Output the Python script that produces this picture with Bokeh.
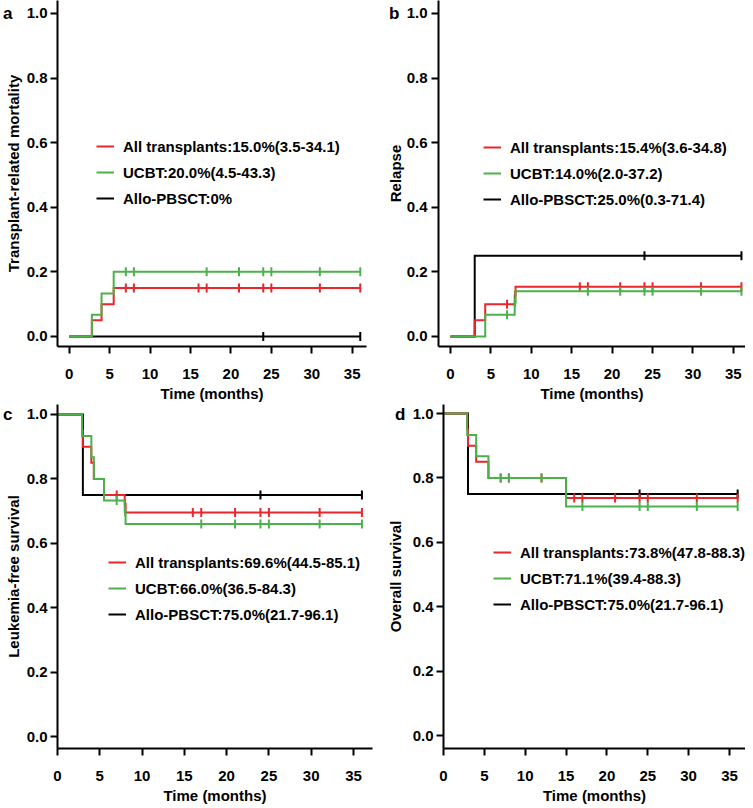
import numpy as np
from bokeh.plotting import figure
from bokeh.layouts import column, row
from bokeh.models import (Range1d, FixedTicker, NumeralTickFormatter, Legend, LegendItem,
                          LinearAxis, CustomJSTickFormatter)
from bokeh.embed import file_html
from bokeh.resources import INLINE

RED = "#e8262b"
GREEN = "#4cb14a"
BLACK = "#000000"
FONT = "Liberation Sans"

x_ticks = [0, 5, 10, 15, 20, 25, 30, 35]
y_ticks = [0.0, 0.2, 0.4, 0.6, 0.8, 1.0]

# ---------------- Panel a: transplant-related mortality ----------------
a_red_t = [0, 2.8, 4.0, 5.5, 36]
a_red_y = [0, 0.05, 0.10, 0.15, 0.15]
a_red_cens = [7, 8, 16, 17, 21, 24, 25, 31, 36]
a_green_t = [0, 2.8, 4.0, 5.5, 36]
a_green_y = [0, 0.067, 0.133, 0.20, 0.20]
a_green_cens = [7, 8, 17, 21, 24, 25, 31, 36]
a_black_t = [0, 36]
a_black_y = [0, 0]
a_black_cens = [24, 36]
a_labels = ["All transplants:15.0%(3.5-34.1)", "UCBT:20.0%(4.5-43.3)", "Allo-PBSCT:0%"]

# ---------------- Panel b: relapse ----------------
b_red_t = [0, 3.0, 4.3, 7.95, 8.05, 36]
b_red_y = [0, 0.05, 0.10, 0.127, 0.154, 0.154]
b_red_cens = [7, 8, 16, 17, 21, 24, 25, 31, 36]
b_green_t = [0, 4.3, 7.95, 8.05, 36]
b_green_y = [0, 0.067, 0.105, 0.14, 0.14]
b_green_cens = [7, 8, 17, 21, 24, 25, 31, 36]
b_black_t = [0, 3.0, 36]
b_black_y = [0, 0.25, 0.25]
b_black_cens = [24, 36]
b_labels = ["All transplants:15.4%(3.6-34.8)", "UCBT:14.0%(2.0-37.2)", "Allo-PBSCT:25.0%(0.3-71.4)"]

# ---------------- Panel c: leukemia-free survival ----------------
c_red_t = [0, 2.9, 3.0, 4.0, 4.3, 5.5, 7.95, 8.05, 36]
c_red_y = [1.0, 0.95, 0.90, 0.85, 0.80, 0.75, 0.722, 0.696, 0.696]
c_red_cens = [7, 8, 16, 17, 21, 24, 25, 31, 36]
c_green_t = [0, 2.9, 4.0, 4.3, 5.5, 7.95, 8.05, 36]
c_green_y = [1.0, 0.933, 0.867, 0.80, 0.733, 0.698, 0.66, 0.66]
c_green_cens = [7, 8, 17, 21, 24, 25, 31, 36]
c_black_t = [0, 3.0, 36]
c_black_y = [1.0, 0.75, 0.75]
c_black_cens = [24, 36]
c_labels = ["All transplants:69.6%(44.5-85.1)", "UCBT:66.0%(36.5-84.3)", "Allo-PBSCT:75.0%(21.7-96.1)"]

# ---------------- Panel d: overall survival ----------------
d_red_t = [0, 2.9, 3.0, 4.0, 5.5, 15.0, 36]
d_red_y = [1.0, 0.95, 0.90, 0.85, 0.80, 0.738, 0.738]
d_red_cens = [7, 8, 12, 16, 17, 21, 24, 25, 31, 36]
d_green_t = [0, 2.9, 4.0, 5.5, 15.0, 36]
d_green_y = [1.0, 0.933, 0.867, 0.80, 0.711, 0.711]
d_green_cens = [7, 8, 12, 17, 24, 25, 31, 36]
d_black_t = [0, 3.0, 36]
d_black_y = [1.0, 0.75, 0.75]
d_black_cens = [24, 36]
d_labels = ["All transplants:73.8%(47.8-88.3)", "UCBT:71.1%(39.4-88.3)", "Allo-PBSCT:75.0%(21.7-96.1)"]


def step_value(t, y, tc):
    t = np.asarray(t, dtype=float)
    y = np.asarray(y, dtype=float)
    idx = np.searchsorted(t, np.asarray(tc, dtype=float), side="right") - 1
    return y[idx]


def make_panel(letter, letter_standoff, ylabel, xr, yr, curves, labels, width, height,
               min_left, min_right, tick_standoff, label_standoff, legend_loc):
    p = figure(width=width, height=height,
               x_range=Range1d(*xr), y_range=Range1d(*yr),
               output_backend="svg", toolbar_location=None,
               min_border_left=min_left, min_border_right=min_right,
               min_border_top=0, min_border_bottom=20)
    p.outline_line_color = None
    p.grid.visible = False
    p.background_fill_color = "white"

    for ax in (p.xaxis[0], p.yaxis[0]):
        ax.axis_line_width = 2
        ax.axis_line_color = "black"
        ax.major_tick_line_width = 2
        ax.major_tick_line_color = "black"
        ax.major_tick_out = 7
        ax.major_tick_in = 0
        ax.minor_tick_line_color = None
        ax.major_label_text_font = FONT
        ax.major_label_text_font_style = "bold"
        ax.major_label_text_font_size = "15px"
        ax.major_label_text_color = "black"
        ax.axis_label_text_font = FONT
        ax.axis_label_text_font_style = "bold"
        ax.axis_label_text_font_size = "15px"
        ax.axis_label_text_color = "black"

    p.xaxis.ticker = FixedTicker(ticks=x_ticks)
    p.yaxis.ticker = FixedTicker(ticks=y_ticks)
    p.yaxis.formatter = NumeralTickFormatter(format="0.0")
    p.xaxis.axis_label = "Time (months)"
    p.yaxis.axis_label = ylabel
    p.xaxis.major_label_standoff = 15
    p.xaxis.axis_label_standoff = 3
    p.yaxis.major_label_standoff = tick_standoff
    p.yaxis.axis_label_standoff = label_standoff

    line_renderers = {}
    for key in ("black", "red", "green"):
        t, y, cens, color = curves[key]
        r = p.step(t, y, mode="after", line_color=color, line_width=2,
                   line_join="miter")
        cy = step_value(t, y, cens)
        p.scatter(cens, cy, marker="dash", angle=np.pi / 2, size=9,
                  line_color=color, line_width=2)
        line_renderers[key] = r

    items = [LegendItem(label=labels[0], renderers=[line_renderers["red"]]),
             LegendItem(label=labels[1], renderers=[line_renderers["green"]]),
             LegendItem(label=labels[2], renderers=[line_renderers["black"]])]
    leg = Legend(items=items, location=legend_loc, orientation="vertical",
                 glyph_width=18, glyph_height=20, label_height=20,
                 label_standoff=9, spacing=6, padding=0, margin=0,
                 border_line_color=None, background_fill_alpha=0,
                 label_text_font=FONT, label_text_font_style="bold",
                 label_text_font_size="15px", label_text_color="black")
    p.add_layout(leg)

    # panel letter, drawn as the only tick label of an extra (invisible) left axis
    lax = LinearAxis(ticker=FixedTicker(ticks=[1.0]),
                     formatter=CustomJSTickFormatter(code="return '%s';" % letter),
                     axis_line_color=None, major_tick_line_color=None,
                     major_tick_out=0, major_tick_in=0,
                     minor_tick_line_color=None, major_label_standoff=letter_standoff,
                     major_label_text_font=FONT, major_label_text_font_style="bold",
                     major_label_text_font_size="17px", major_label_text_color="black")
    p.add_layout(lax, "left")
    return p


pa = make_panel("a", -11, "Transplant-related mortality", (-1.45, 36.77), (-0.031, 1.04),
                {"red": (a_red_t, a_red_y, a_red_cens, RED),
                 "green": (a_green_t, a_green_y, a_green_cens, GREEN),
                 "black": (a_black_t, a_black_y, a_black_cens, BLACK)},
                a_labels, 375, 404, 57, 9, 3, 2, (39, 138))

pb = make_panel("b", -16, "Relapse", (-1.48, 36.5), (-0.031, 1.04),
                {"red": (b_red_t, b_red_y, b_red_cens, RED),
                 "green": (b_green_t, b_green_y, b_green_cens, GREEN),
                 "black": (b_black_t, b_black_y, b_black_cens, BLACK)},
                b_labels, 370, 404, 63, 0, 4, 0, (45, 137))

pc = make_panel("c", -11, "Leukemia-free survival", (0, 37.25), (-0.037, 1.031),
                {"red": (c_red_t, c_red_y, c_red_cens, RED),
                 "green": (c_green_t, c_green_y, c_green_cens, GREEN),
                 "black": (c_black_t, c_black_y, c_black_cens, BLACK)},
                c_labels, 375, 402, 57, 3, 3, 2, (51, 124))

pd_ = make_panel("d", -22, "Overall survival", (0, 36.96), (-0.040, 1.028),
                 {"red": (d_red_t, d_red_y, d_red_cens, RED),
                  "green": (d_green_t, d_green_y, d_green_cens, GREEN),
                  "black": (d_black_t, d_black_y, d_black_cens, BLACK)},
                 d_labels, 370, 402, 68, 0, 3, 6, (50, 134))

layout = column(row(pa, pb), row(pc, pd_))

open("out.html", "w").write(file_html(layout, INLINE))
